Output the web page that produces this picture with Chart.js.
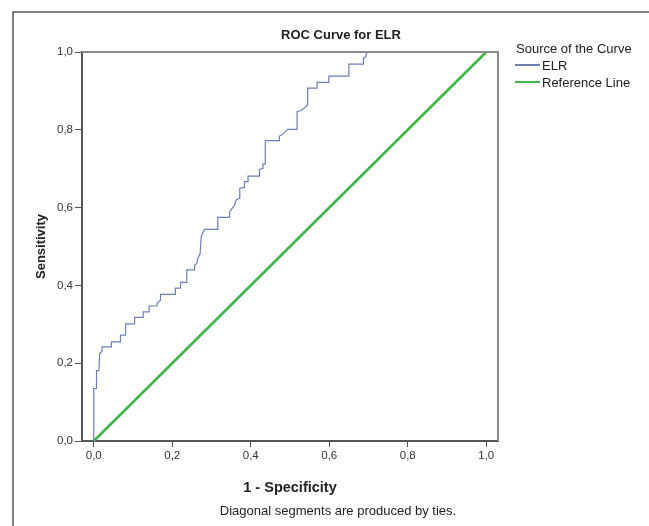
<!DOCTYPE html>
<html>
<head>
<meta charset="utf-8">
<title>ROC Curve for ELR</title>
<script src="https://cdn.jsdelivr.net/npm/chart.js@4.4.1/dist/chart.umd.min.js"></script>
<style>
  html, body { margin: 0; padding: 0; background: #fff; }
  canvas { display: block; }
</style>
</head>
<body>
<canvas id="roc" width="649" height="526"></canvas>
<script>
// Puntos de la curva ROC (1 - especificidad, sensibilidad)
const elrFpr = [0, 0, 0.007, 0.007, 0.013, 0.015, 0.021, 0.021, 0.045, 0.045,
  0.068, 0.068, 0.081, 0.081, 0.104, 0.104, 0.126, 0.126, 0.141, 0.141,
  0.161, 0.161, 0.170, 0.170, 0.208, 0.208, 0.221, 0.221, 0.237, 0.237,
  0.257, 0.257, 0.263, 0.265, 0.271, 0.274, 0.282, 0.316, 0.316, 0.346,
  0.346, 0.359, 0.363, 0.372, 0.372, 0.384, 0.384, 0.393, 0.393, 0.422,
  0.422, 0.429, 0.431, 0.437, 0.437, 0.473, 0.473, 0.480, 0.494, 0.518,
  0.518, 0.528, 0.545, 0.545, 0.569, 0.569, 0.599, 0.599, 0.650, 0.650,
  0.687, 0.687, 0.694, 0.694, 0.702, 1.0];
const elrTpr = [0, 0.135, 0.135, 0.181, 0.181, 0.225, 0.230, 0.242, 0.242, 0.255,
  0.255, 0.272, 0.272, 0.301, 0.301, 0.318, 0.318, 0.332, 0.332, 0.347,
  0.347, 0.354, 0.362, 0.377, 0.377, 0.393, 0.393, 0.408, 0.408, 0.440,
  0.440, 0.452, 0.457, 0.470, 0.481, 0.527, 0.544, 0.544, 0.575, 0.575,
  0.589, 0.607, 0.620, 0.624, 0.650, 0.652, 0.667, 0.667, 0.681, 0.681,
  0.697, 0.701, 0.712, 0.712, 0.772, 0.772, 0.784, 0.787, 0.801, 0.801,
  0.847, 0.849, 0.864, 0.907, 0.907, 0.922, 0.922, 0.938, 0.938, 0.969,
  0.969, 0.984, 0.988, 0.997, 1.0, 1.0];

// Linea de referencia
const refX = [0, 1];
const refY = [0, 1];

// Etiquetas de los ejes (coma decimal, como en el original)
const tickValues = [0, 0.2, 0.4, 0.6, 0.8, 1.0];
const tickLabels = ['0,0', '0,2', '0,4', '0,6', '0,8', '1,0'];

const toPoints = (xs, ys) => xs.map((x, i) => ({ x: x, y: ys[i] }));

// Marco exterior, borde del grafico, titulo, nota y leyenda
const extras = {
  id: 'extras',
  afterDraw(chart) {
    const ctx = chart.ctx;
    const a = chart.chartArea;
    ctx.save();

    // marco exterior
    ctx.strokeStyle = '#555';
    ctx.lineWidth = 1.5;
    ctx.beginPath();
    ctx.moveTo(13, 526);
    ctx.lineTo(13, 12);
    ctx.lineTo(649, 12);
    ctx.stroke();

    // lados superior y derecho del area del grafico
    ctx.strokeStyle = '#8a8a8a';
    ctx.lineWidth = 2;
    ctx.beginPath();
    ctx.moveTo(a.left, a.top);
    ctx.lineTo(a.right, a.top);
    ctx.lineTo(a.right, a.bottom);
    ctx.stroke();

    ctx.fillStyle = '#222';
    ctx.textBaseline = 'middle';

    // titulo
    ctx.font = 'bold 13px "Liberation Sans", Arial, sans-serif';
    ctx.textAlign = 'center';
    ctx.fillText('ROC Curve for ELR', 341, 35);

    // nota al pie
    ctx.font = '13px "Liberation Sans", Arial, sans-serif';
    ctx.fillText('Diagonal segments are produced by ties.', 338, 511);

    // leyenda
    ctx.textAlign = 'left';
    ctx.fillText('Source of the Curve', 516, 49);
    chart.data.datasets.forEach((ds, i) => {
      const y = 65 + i * 17;
      ctx.strokeStyle = ds.borderColor;
      ctx.lineWidth = 2;
      ctx.beginPath();
      ctx.moveTo(515, y);
      ctx.lineTo(540, y);
      ctx.stroke();
      ctx.fillStyle = '#222';
      ctx.fillText(ds.label, 542, y + 1);
    });

    ctx.restore();
  }
};

const ctx = document.getElementById('roc').getContext('2d');
const chart = new Chart(ctx, {
  type: 'scatter',
  data: {
    datasets: [{
      label: 'ELR',
      data: toPoints(elrFpr, elrTpr),
      showLine: true,
      borderColor: '#6d80b8',
      borderWidth: 1.2,
      pointRadius: 0,
      tension: 0,
      clip: 3
    }, {
      label: 'Reference Line',
      data: toPoints(refX, refY),
      showLine: true,
      borderColor: '#3fb54c',
      borderWidth: 2.6,
      pointRadius: 0,
      clip: 3
    }]
  },
  options: {
    responsive: false,
    animation: false,
    layout: { padding: { left: 13, top: 52, right: 151, bottom: 29 } },
    plugins: {
      legend: { display: false },
      title: { display: false },
      tooltip: { enabled: false }
    },
    scales: {
      x: {
        type: 'linear',
        min: -0.03,
        max: 1.03,
        afterBuildTicks: (s) => { s.ticks = tickValues.map(v => ({ value: v })); },
        afterFit: (s) => { s.height = 56; },
        ticks: {
          callback: (v, i) => tickLabels[i],
          color: '#333',
          font: { family: '"Liberation Sans", Arial, sans-serif', size: 11.5 },
          padding: 2,
          maxRotation: 0
        },
        grid: { drawOnChartArea: false, drawTicks: true, tickLength: 6, color: '#555' },
        border: { display: true, color: '#555', width: 2 },
        title: {
          display: true,
          text: '1 - Specificity',
          color: '#222',
          font: { family: '"Liberation Sans", Arial, sans-serif', size: 14.5, weight: 'bold' },
          padding: { top: 0, bottom: 0 }
        }
      },
      y: {
        type: 'linear',
        min: 0,
        max: 1,
        afterBuildTicks: (s) => { s.ticks = tickValues.map(v => ({ value: v })); },
        afterFit: (s) => { s.width = 69; },
        ticks: {
          callback: (v, i) => tickLabels[i],
          color: '#333',
          font: { family: '"Liberation Sans", Arial, sans-serif', size: 11.5 },
          padding: 2
        },
        grid: { drawOnChartArea: false, drawTicks: true, tickLength: 7, color: '#555' },
        border: { display: true, color: '#555', width: 2 },
        title: {
          display: true,
          text: 'Sensitivity',
          color: '#222',
          font: { family: '"Liberation Sans", Arial, sans-serif', size: 13, weight: 'bold' },
          padding: { top: 21, bottom: 0 }
        }
      }
    }
  },
  plugins: [extras]
});
</script>
</body>
</html>
